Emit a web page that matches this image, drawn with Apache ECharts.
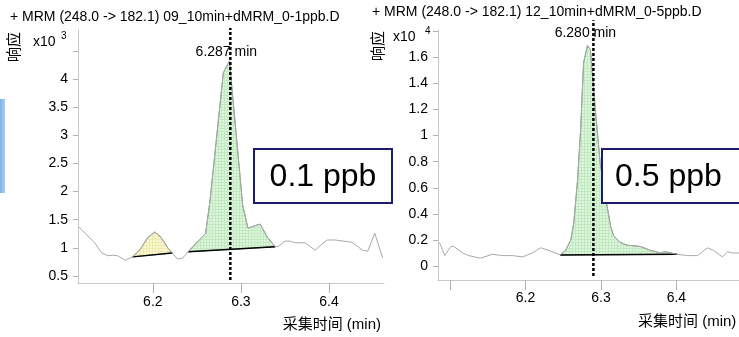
<!DOCTYPE html>
<html>
<head>
<meta charset="utf-8">
<script src="https://cdn.jsdelivr.net/npm/echarts@6/dist/echarts.min.js"></script>
<style>
    html, body { margin: 0; padding: 0; background: #fff; }
    #chart { width: 739px; height: 337px; }
</style>
</head>
<body>
<div id="chart"></div>
<script>
// 左图 0.1 ppb
var leftTitle = '+ MRM (248.0 -> 182.1) 09_10min+dMRM_0-1ppb.D';
var leftTime = [6.116, 6.123, 6.134, 6.142, 6.149, 6.155, 6.160, 6.169, 6.174, 6.177,
    6.185, 6.194, 6.202, 6.208, 6.213, 6.217, 6.222, 6.228, 6.234, 6.240,
    6.260, 6.265, 6.280, 6.287, 6.302, 6.308, 6.319, 6.322, 6.330, 6.339,
    6.343, 6.350, 6.356, 6.361, 6.373, 6.384, 6.398, 6.407, 6.426, 6.438,
    6.444, 6.452, 6.461];
var leftResp = [1.37, 1.26, 1.09, 0.91, 0.86, 0.87, 0.86, 0.78, 0.82, 0.84,
    0.96, 1.18, 1.28, 1.21, 1.10, 1.00, 0.91, 0.80, 0.82, 0.93,
    1.26, 1.85, 4.11, 4.32, 1.76, 1.35, 1.41, 1.42, 1.19, 1.02,
    1.03, 1.12, 1.12, 1.09, 1.09, 0.96, 1.14, 1.14, 1.10, 0.96,
    0.94, 1.26, 0.82];
var leftPeaks = [[9, 16], [19, 29]];
var leftRt = 6.288;
var leftRtLabel = '6.287 min';
var leftYLabels = [0.5, 1, 1.5, 2, 2.5, 3, 3.5, 4];
var leftYTicks = [0.5, 1, 1.5, 2, 2.5, 3, 3.5, 4, 4.5];
var leftXTicks = [6.2, 6.3, 6.4];

// 右图 0.5 ppb
var rightTitle = '+ MRM (248.0 -> 182.1) 12_10min+dMRM_0-5ppb.D';
var rightTime = [6.086, 6.093, 6.101, 6.105, 6.117, 6.125, 6.140, 6.156, 6.170, 6.183,
    6.196, 6.209, 6.220, 6.231, 6.246, 6.253, 6.260, 6.264, 6.269, 6.273,
    6.277, 6.282, 6.286, 6.293, 6.299, 6.306, 6.313, 6.317, 6.326, 6.335,
    6.352, 6.366, 6.379, 6.385, 6.401, 6.415, 6.428, 6.441, 6.449, 6.461,
    6.468, 6.474, 6.483];
var rightResp = [0.18, 0.08, 0.15, 0.15, 0.10, 0.08, 0.06, 0.09, 0.08, 0.08,
    0.07, 0.10, 0.14, 0.12, 0.085, 0.12, 0.20, 0.33, 0.66, 1.04,
    1.56, 1.69, 1.66, 1.17, 0.79, 0.53, 0.30, 0.23, 0.18, 0.16,
    0.15, 0.12, 0.10, 0.11, 0.09, 0.08, 0.08, 0.14, 0.12, 0.07,
    0.11, 0.10, 0.10];
var rightPeaks = [[14, 34]];
var rightRt = 6.290;
var rightRtLabel = '6.280 min';
var rightYLabels = [0, 0.2, 0.4, 0.6, 0.8, 1, 1.2, 1.4, 1.6];
var rightYTicks = [0, 0.2, 0.4, 0.6, 0.8, 1, 1.2, 1.4, 1.6, 1.8];
var rightXTicks = [6.1, 6.2, 6.3, 6.4];
var rightXLabels = [6.2, 6.3, 6.4];

var FONT = "'Liberation Sans', 'Noto Sans CJK SC', sans-serif";

function hatch(bg, fg) {
    var c = document.createElement('canvas');
    c.width = 3;
    c.height = 3;
    var g = c.getContext('2d');
    g.fillStyle = bg;
    g.fillRect(0, 0, 3, 3);
    g.fillStyle = fg;
    g.fillRect(0, 2, 3, 1);
    g.fillRect(2, 0, 1, 3);
    return { image: c, repeat: 'repeat' };
}

var greenFill = hatch('#dcf7dc', '#c2e9c2');
var yellowFill = hatch('#fbf9cf', '#eeeab2');

function zip(xs, ys) {
    return xs.map(function (x, i) { return [x, ys[i]]; });
}

function peakRender(time, resp, peaks, fills) {
    return function (params, api) {
        var p = peaks[params.dataIndex];
        var pts = [];
        for (var i = p[0]; i <= p[1]; i++) {
            pts.push(api.coord([time[i], resp[i]]));
        }
        var a = pts[0], b = pts[pts.length - 1];
        return {
            type: 'group',
            children: [
                { type: 'polygon', shape: { points: pts }, style: { fill: fills[params.dataIndex], stroke: '#7f9c7f', lineWidth: 1 } },
                { type: 'line', shape: { x1: a[0], y1: a[1], x2: b[0], y2: b[1] }, style: { stroke: '#000', lineWidth: 1.5 } }
            ]
        };
    };
}

function xAxis(grid, min, max, ticks, labels, margin) {
    return {
        type: 'value', gridIndex: grid, min: min, max: max,
        axisLine: { onZero: false, lineStyle: { color: '#c8c8c8' } },
        axisTick: { customValues: ticks, length: 10, lineStyle: { color: '#b0b0b0' } },
        axisLabel: { customValues: labels, margin: margin, color: '#000', fontSize: 14, fontFamily: FONT },
        splitLine: { show: false }
    };
}

function yAxis(grid, min, max, ticks, labels) {
    return {
        type: 'value', gridIndex: grid, min: min, max: max,
        axisLine: { show: true, lineStyle: { color: '#c8c8c8' } },
        axisTick: { show: true, customValues: ticks, length: 5, lineStyle: { color: '#b0b0b0' } },
        axisLabel: { customValues: labels, margin: 10, color: '#000', fontSize: 14, fontFamily: FONT },
        splitLine: { show: false }
    };
}

function rtLine(idx, rt, yBottom, yTop, text, offset) {
    return {
        type: 'line', xAxisIndex: idx, yAxisIndex: idx, clip: false, z: 5,
        symbol: 'circle', symbolSize: 1, itemStyle: { color: 'rgba(0,0,0,0)' },
        lineStyle: { color: '#000', width: 2.5, type: [3, 2] },
        data: [
            [rt, yBottom],
            {
                value: [rt, yTop],
                label: { show: true, position: 'inside', offset: offset, formatter: text, color: '#000', fontSize: 14, fontFamily: FONT }
            }
        ]
    };
}

function text(x, y, str, size, extra) {
    var o = {
        type: 'text', x: x, y: y, z: 100,
        style: { text: str, fill: '#000', fontSize: size, fontFamily: FONT, textAlign: 'left', textVerticalAlign: 'middle' }
    };
    for (var k in extra) {
        if (k === 'rotation') o.rotation = extra[k];
        else o.style[k] = extra[k];
    }
    return o;
}

var chart = echarts.init(document.getElementById('chart'));
chart.setOption({
    animation: false,
    grid: [
        { left: 78, top: 30, width: 306, height: 253 },
        { left: 438, top: 30, width: 301, height: 250 }
    ],
    xAxis: [
        xAxis(0, 6.115, 6.4625, leftXTicks, leftXTicks, 12),
        xAxis(1, 6.084, 6.483, rightXTicks, rightXLabels, 11)
    ],
    yAxis: [
        yAxis(0, 0.376, 4.87, leftYTicks, leftYLabels),
        yAxis(1, -0.107, 1.81, rightYTicks, rightYLabels)
    ],
    series: [
        {
            type: 'custom', xAxisIndex: 0, yAxisIndex: 0, z: 2,
            renderItem: peakRender(leftTime, leftResp, leftPeaks, [yellowFill, greenFill]),
            data: leftPeaks.map(function (p) { return [leftTime[p[0]], leftResp[p[0]]]; })
        },
        {
            type: 'custom', xAxisIndex: 1, yAxisIndex: 1, z: 2,
            renderItem: peakRender(rightTime, rightResp, rightPeaks, [greenFill]),
            data: rightPeaks.map(function (p) { return [rightTime[p[0]], rightResp[p[0]]]; })
        },
        {
            type: 'line', xAxisIndex: 0, yAxisIndex: 0, z: 3, showSymbol: false,
            lineStyle: { color: '#a8a8a8', width: 1 },
            data: zip(leftTime, leftResp)
        },
        {
            type: 'line', xAxisIndex: 1, yAxisIndex: 1, z: 3, showSymbol: false,
            lineStyle: { color: '#a8a8a8', width: 1 },
            data: zip(rightTime, rightResp)
        },
        rtLine(0, leftRt, 0.43, 4.905, leftRtLabel, [-4, 24]),
        rtLine(1, rightRt, -0.077, 1.885, rightRtLabel, [-8, 13])
    ],
    graphic: [
        { type: 'rect', shape: { x: 0, y: 99, width: 5, height: 94 }, style: { fill: new echarts.graphic.LinearGradient(0, 0, 1, 0, [{ offset: 0, color: '#7fb2ea' }, { offset: 1, color: '#a9cdf3' }]) } },
        text(10, 17, leftTitle, 14),
        text(372, 12, rightTitle, 14),
        text(15, 47, '响应', 15, { textAlign: 'center', rotation: Math.PI / 2 }),
        text(379, 46, '响应', 15, { textAlign: 'center', rotation: Math.PI / 2 }),
        text(33, 42, 'x10', 14),
        text(61, 36, '3', 10),
        text(393, 37, 'x10', 14),
        text(425, 31, '4', 10),
        text(381, 325, '采集时间 (min)', 15, { textAlign: 'right' }),
        text(638, 322, '采集时间 (min)', 15),
        { type: 'rect', z: 90, shape: { x: 254, y: 149, width: 138, height: 54 }, style: { fill: '#fff', stroke: '#1b1b70', lineWidth: 2 } },
        text(323, 177, '0.1 ppb', 32, { textAlign: 'center' }),
        { type: 'rect', z: 90, shape: { x: 602, y: 149, width: 160, height: 54 }, style: { fill: '#fff', stroke: '#1b1b70', lineWidth: 2 } },
        text(615, 177, '0.5 ppb', 32)
    ]
});
</script>
</body>
</html>
